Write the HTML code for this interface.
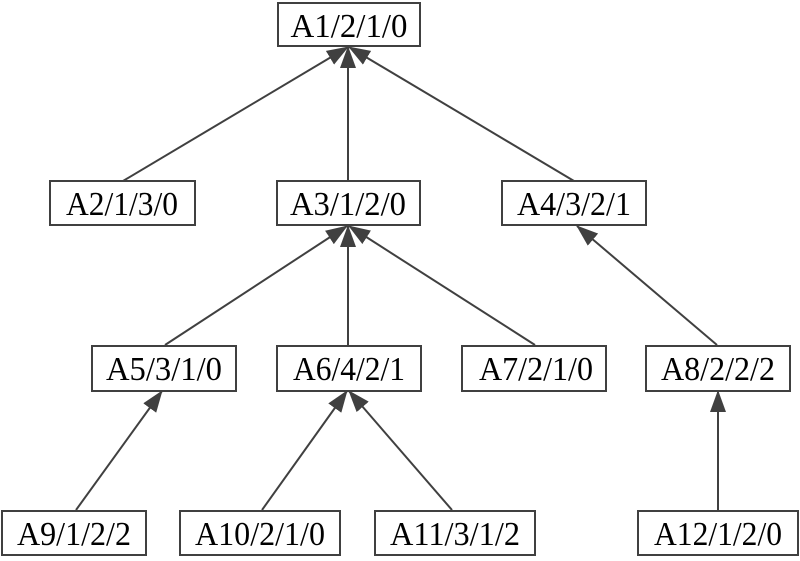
<!DOCTYPE html>
<html><head><meta charset="utf-8"><style>html,body{margin:0;padding:0;background:#fff}</style></head>
<body>
<svg width="800" height="556" xmlns="http://www.w3.org/2000/svg">
<defs>
<marker id="a" markerWidth="22" markerHeight="16" refX="21" refY="8" orient="auto" markerUnits="userSpaceOnUse">
<path d="M0,0 L22,8 L0,16 z" fill="#404040"/>
</marker>
</defs>
<g stroke="#404040" stroke-width="2" fill="none" marker-end="url(#a)">
<line x1="123" y1="181" x2="348" y2="47"/>
<line x1="348" y1="181" x2="348" y2="47"/>
<line x1="574" y1="181" x2="349" y2="47"/>
<line x1="165" y1="345" x2="347" y2="226"/>
<line x1="348" y1="345" x2="348" y2="226"/>
<line x1="535" y1="345" x2="349" y2="226"/>
<line x1="717" y1="345" x2="577" y2="226"/>
<line x1="76" y1="510" x2="162" y2="391"/>
<line x1="262" y1="510" x2="347" y2="391"/>
<line x1="452" y1="510" x2="349" y2="391"/>
<line x1="718" y1="510" x2="718" y2="391"/>
</g>
<g stroke="#404040" stroke-width="2" fill="#fff">
<rect x="278" y="3" width="142" height="43"/>
<rect x="50" y="181" width="145" height="44"/>
<rect x="277" y="181" width="143" height="44"/>
<rect x="502" y="181" width="144" height="44"/>
<rect x="92" y="346" width="144" height="45"/>
<rect x="277" y="346" width="144" height="45"/>
<rect x="462" y="346" width="144" height="45"/>
<rect x="646" y="346" width="144" height="45"/>
<rect x="2" y="511" width="144" height="44"/>
<rect x="180" y="511" width="160" height="44"/>
<rect x="375" y="511" width="160" height="44"/>
<rect x="638" y="511" width="160" height="44"/>
</g>
<g font-family="Liberation Serif, serif" font-size="34" fill="#000" text-anchor="middle" lengthAdjust="spacingAndGlyphs">
<text x="349" y="37" textLength="117" lengthAdjust="spacingAndGlyphs">A1/2/1/0</text>
<text x="122" y="215" textLength="112" lengthAdjust="spacingAndGlyphs">A2/1/3/0</text>
<text x="348" y="215" textLength="116" lengthAdjust="spacingAndGlyphs">A3/1/2/0</text>
<text x="574" y="215" textLength="114" lengthAdjust="spacingAndGlyphs">A4/3/2/1</text>
<text x="164" y="380" textLength="116" lengthAdjust="spacingAndGlyphs">A5/3/1/0</text>
<text x="349" y="380" textLength="112" lengthAdjust="spacingAndGlyphs">A6/4/2/1</text>
<text x="536" y="380" textLength="114" lengthAdjust="spacingAndGlyphs">A7/2/1/0</text>
<text x="718" y="380" textLength="114" lengthAdjust="spacingAndGlyphs">A8/2/2/2</text>
<text x="74" y="545" textLength="114" lengthAdjust="spacingAndGlyphs">A9/1/2/2</text>
<text x="260" y="545" textLength="130" lengthAdjust="spacingAndGlyphs">A10/2/1/0</text>
<text x="455" y="545" textLength="130" lengthAdjust="spacingAndGlyphs">A11/3/1/2</text>
<text x="718" y="545" textLength="128" lengthAdjust="spacingAndGlyphs">A12/1/2/0</text>
</g>
</svg>
</body></html>
